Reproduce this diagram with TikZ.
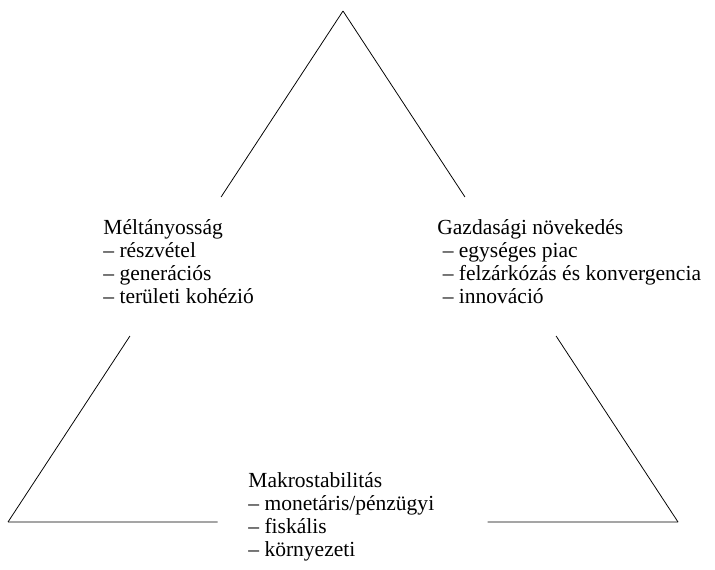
\documentclass[tikz,border=0pt]{standalone}
\usepackage{fontspec}
\setmainfont{Liberation Serif}
\usetikzlibrary{calc}

\tikzset{
	label block/.style={anchor=base west, align=left, inner sep=0pt,
		font=\fontsize{15.3}{16.45}\selectfont}
}

\begin{document}
\begin{tikzpicture}[x=0.025cm, y=-0.025cm, line width=0.55pt]
	\useasboundingbox (0,0) rectangle (715,570);
	%\draw[help lines] (0,0) grid[step=50] (715,570);
	\coordinate (top) at (343,11);
	\coordinate (bl) at (8,522);
	\coordinate (br) at (678,522);
	% broken sides of the triangle
	\draw (top) -- ($(top)!0.364!(bl)$);
	\draw ($(top)!0.636!(bl)$) -- (bl);
	\draw (top) -- ($(top)!0.364!(br)$);
	\draw ($(top)!0.636!(br)$) -- (br);
	\draw (bl) -- ($(bl)!0.313!(br)$);
	\draw ($(bl)!0.716!(br)$) -- (br);
	% texts (base = last line)
	\node[label block] (equity) at (103,303.5) {Méltányosság\\
		– részvétel\\
		– generációs\\
		– területi kohézió};
	\node[label block] (growth) at (437,303.5) {Gazdasági növekedés\\
		\hspace{0.25em}– egységes piac\\
		\hspace{0.25em}– felzárkózás és konvergencia\\
		\hspace{0.25em}– innováció};
	\node[label block] (stability) at (248,556.5) {Makrostabilitás\\
		– monetáris/pénzügyi\\
		– fiskális\\
		– környezeti};
\end{tikzpicture}
\end{document}
